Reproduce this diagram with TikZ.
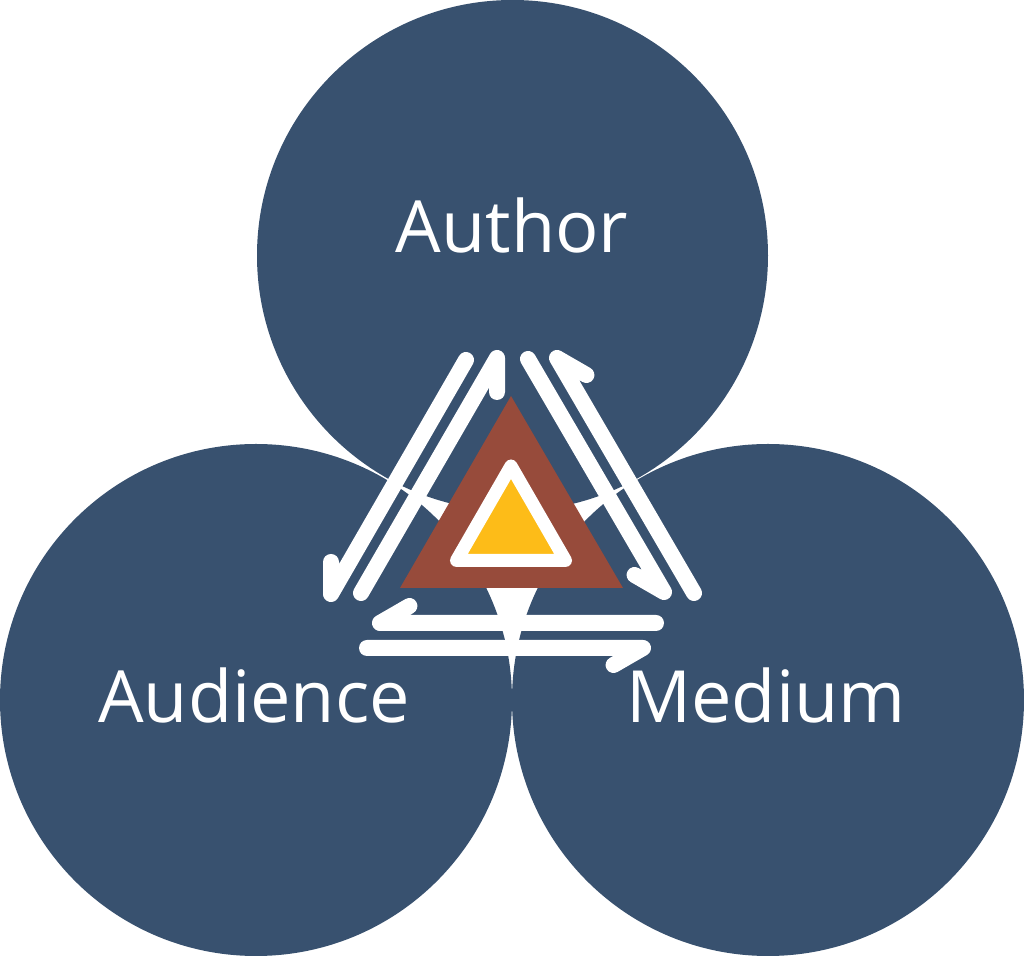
\documentclass[tikz,border=0pt]{standalone}
\usepackage{fontspec}
\setmainfont{Open Sans}
\definecolor{circleblue}{HTML}{38516F}
\definecolor{rustbrown}{HTML}{974B3B}
\definecolor{coreyellow}{HTML}{FDBC18}

\begin{document}
\begin{tikzpicture}
\useasboundingbox (0,0) rectangle (10.24,-9.56);
\tikzset{
  blob/.style={circle, fill=circleblue, inner sep=0, minimum size=#1},
  name-label/.style={anchor=base, text=white, font=\fontsize{20.5}{24}\selectfont},
  flow/.style={white, line width=0.16cm, line cap=round, line join=round}
}

% Circles
\node[blob=5.11cm] (author-circle)   at (5.125, -2.555) {};
\node[blob=5.12cm] (audience-circle) at (2.56, -7.0) {};
\node[blob=5.12cm] (medium-circle)   at (7.68, -7.0) {};

% Labels
\node[name-label] (author)   at (5.12, -2.53) {Author};
\node[name-label] (audience) at (2.54, -7.23) {Audience};
\node[name-label] (medium)   at (7.66, -7.23) {Medium};

% Triangles
\coordinate (outer-top)   at (5.11, -3.96);
\coordinate (outer-left)  at (4.00, -5.88);
\coordinate (outer-right) at (6.23, -5.88);
\fill[rustbrown] (outer-top) -- (outer-left) -- (outer-right) -- cycle;

\coordinate (inner-top)   at (5.11, -4.66);
\coordinate (inner-left)  at (4.565, -5.605);
\coordinate (inner-right) at (5.655, -5.605);
\filldraw[fill=coreyellow, draw=white, line width=0.13cm, line join=round]
  (inner-top) -- (inner-left) -- (inner-right) -- cycle;

% Arrows, left side
\coordinate (a1-start) at (4.66, -3.60);
\coordinate (a1-tip)   at (3.31, -5.94);
\draw[flow] (a1-start) -- (a1-tip) -- ++(90:0.32);

\coordinate (a2-start) at (3.61, -5.93);
\coordinate (a2-tip)   at (4.97, -3.58);
\draw[flow] (a2-start) -- (a2-tip) -- ++(270:0.34);

% Arrows, right side
\coordinate (a3-start) at (5.28, -3.59);
\coordinate (a3-tip)   at (6.64, -5.92);
\draw[flow] (a3-start) -- (a3-tip) -- ++(150:0.34);

\coordinate (a4-start) at (6.94, -5.93);
\coordinate (a4-tip)   at (5.57, -3.58);
\draw[flow] (a4-start) -- (a4-tip) -- ++(-30:0.34);

% Arrows, bottom
\coordinate (a5-start) at (6.56, -6.23);
\coordinate (a5-tip)   at (3.80, -6.23);
\draw[flow] (a5-start) -- (a5-tip) -- ++(30:0.34);

\coordinate (a6-start) at (3.67, -6.48);
\coordinate (a6-tip)   at (6.43, -6.48);
\draw[flow] (a6-start) -- (a6-tip) -- ++(210:0.34);

\end{tikzpicture}
\end{document}
